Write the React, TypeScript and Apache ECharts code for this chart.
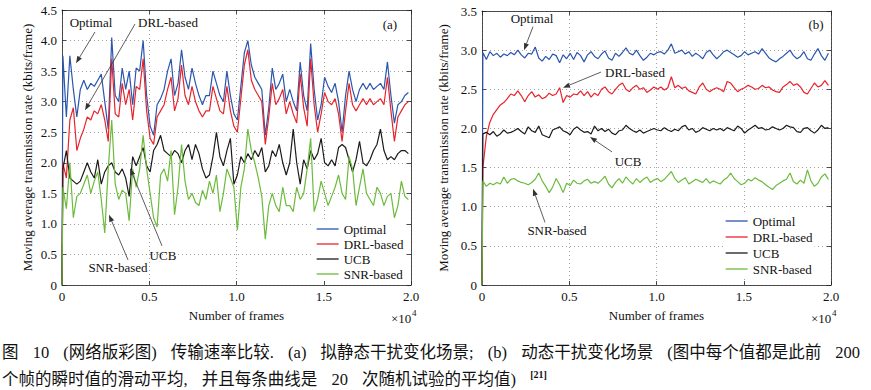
import React, { useEffect, useRef } from 'react';
import * as echarts from 'echarts';

// Sampling of the moving-average curves: first sample at frame 50, one every 200 frames
const FRAME_START = 50;
const FRAME_STEP = 200;

const seriesNames = ['Optimal', 'DRL-based', 'UCB', 'SNR-based'];
const seriesColors = ['#2a56ad', '#e8232b', '#1e1a1a', '#6cbb3c'];

const xTickLabels = ['0', '0.5', '1.0', '1.5', '2.0'];
const yTickLabelsA = ['0', '0.5', '1.0', '1.5', '2.0', '2.5', '3.0', '3.5', '4.0', '4.5'];
const yTickLabelsB = ['0', '0.5', '1.0', '1.5', '2.0', '2.5', '3.0', '3.5'];

// (a) quasi-static interference
const optimalA = [
  3.75, 2.75, 3.75, 3.2, 2.75, 3.2, 3.35, 3.2, 3.3, 3.25,
  3.35, 3.45, 3.0, 2.55, 4.05, 3.1, 3.0, 3.55, 3.2, 3.5,
  2.95, 3.55, 3.5, 4.0, 3.1, 2.6, 2.45, 2.95, 3.05, 3.2,
  3.5, 3.7, 3.1, 3.3, 3.85, 3.4, 3.2, 3.55, 3.3, 3.1,
  2.95, 3.1, 3.1, 3.5, 3.3, 3.1, 3.0, 3.5, 3.1, 2.8,
  2.7, 3.25, 3.8, 4.0, 3.6, 3.4, 3.3, 3.2, 2.45, 2.9,
  3.55, 3.2, 3.3, 3.45, 3.0, 3.2, 3.0, 2.85, 3.65, 3.1,
  2.85, 3.95, 3.2, 2.7, 2.95, 3.4, 3.25, 3.15, 3.3, 3.0,
  2.5, 3.1, 3.5, 3.2, 3.0, 3.2, 3.3, 3.2, 3.3, 3.2,
  3.25, 3.3, 3.2, 3.65, 3.1, 2.65, 2.95, 3.0, 3.1, 3.15,
];
const drlA = [
  2.0, 1.75, 2.7, 2.9, 2.2, 2.4, 2.55, 2.75, 2.7, 2.85,
  2.8, 2.95, 2.7, 2.35, 3.7, 2.8, 2.75, 3.3, 2.95, 3.2,
  2.7, 3.25, 3.2, 3.7, 2.85, 2.4, 2.3, 2.75, 2.85, 2.95,
  3.2, 3.4, 2.85, 3.05, 3.6, 3.1, 2.95, 3.25, 3.0, 2.85,
  2.75, 2.85, 2.85, 3.25, 3.05, 2.85, 2.8, 3.25, 2.85, 2.6,
  2.5, 3.05, 3.6, 3.85, 3.35, 3.2, 3.1, 3.0, 2.3, 2.75,
  3.3, 2.95, 3.05, 3.2, 2.8, 3.0, 2.8, 2.65, 3.45, 2.9,
  2.6, 3.7, 2.95, 2.5, 2.8, 3.15, 3.0, 2.95, 3.05, 2.8,
  2.35, 2.85, 3.3, 2.95, 2.85, 2.95, 3.05, 2.95, 3.05, 2.95,
  3.0, 3.05, 2.95, 3.4, 2.85, 2.35, 2.75, 2.85, 2.95, 3.0,
];
const ucbA = [
  1.9, 2.2, 1.75, 1.7, 1.65, 1.7, 1.85, 2.0, 1.85, 1.75,
  2.05, 1.65, 1.85, 1.95, 2.0, 1.85, 1.8, 1.9, 1.75, 1.45,
  2.1, 1.95, 2.1, 2.25, 1.95, 1.85, 2.2, 2.3, 2.45, 2.2,
  2.15, 2.1, 2.2, 2.15, 2.0, 2.2, 2.3, 2.05, 2.3, 2.15,
  1.9, 1.75, 1.8, 2.1, 2.5, 2.1, 1.95, 2.2, 2.4, 1.65,
  1.8, 2.1, 2.0, 2.15, 2.05, 2.2, 2.1, 2.25, 1.85, 1.95,
  2.2, 2.1, 2.3, 2.0, 1.8, 2.0, 2.55, 2.0, 1.65, 2.05,
  1.9, 2.2, 2.05, 2.15, 2.4, 2.0, 1.95, 2.05, 1.95, 2.25,
  2.3, 2.25, 2.05, 1.85, 2.05, 2.35, 2.0, 1.95, 2.05, 2.2,
  2.3, 2.55, 2.2, 2.05, 2.1, 2.05, 2.15, 2.2, 2.2, 2.15,
];
const snrA = [
  1.6, 1.25, 2.0, 1.1, 1.45, 1.5, 1.65, 1.8, 1.5, 1.7,
  1.85, 1.4, 0.85, 1.9, 2.7, 1.65, 1.4, 1.55, 1.5, 1.05,
  1.9, 1.6, 1.9, 2.45, 1.9, 1.5, 1.1, 0.95, 1.8, 1.9,
  1.7, 2.2, 1.15, 1.6, 2.3, 1.7, 1.4, 1.5, 1.35, 1.3,
  1.55, 1.4, 1.7, 1.5, 1.8, 1.2, 1.5, 1.9, 1.75, 1.6,
  0.9, 1.6, 1.9, 2.55, 2.2, 2.0, 1.75, 1.45, 0.75, 1.3,
  1.5, 1.3, 1.2, 1.6, 1.3, 1.3, 1.2, 1.6, 1.4, 1.5,
  1.9, 2.4, 1.2, 1.4, 1.7, 1.5, 1.3, 1.45, 1.6, 1.8,
  1.5, 1.4, 2.1, 1.9, 1.3, 1.6, 1.9, 1.5, 1.4, 1.3,
  1.6, 1.5, 1.3, 1.45, 1.5, 1.1, 1.3, 1.7, 1.45, 1.4,
];

// (b) dynamic interference
const optimalB = [
  2.97, 2.88, 2.98, 2.93, 2.96, 2.91, 2.95, 2.93, 2.97, 2.94,
  3.0, 2.94, 2.9, 2.96, 2.95, 3.04, 2.9, 2.86, 2.92, 2.88,
  2.95, 2.93, 2.84, 2.94, 2.89, 2.96, 2.88, 2.97, 2.93, 2.85,
  2.94, 2.98, 2.92, 2.89, 2.95, 2.99, 2.9, 2.87, 2.96, 2.92,
  2.97, 3.03, 2.96, 2.94, 3.0, 2.93, 2.87, 2.91, 2.96, 2.94,
  2.97, 2.98, 2.95, 3.0, 3.08, 2.96, 2.98, 3.0, 2.95, 2.98,
  2.92, 2.96, 2.93, 2.89, 2.97, 3.0, 2.94, 2.89, 2.93, 2.98,
  3.0, 2.97, 2.94, 2.91, 2.93, 2.98, 2.94, 2.96, 2.98, 2.95,
  3.02, 2.96, 2.9, 2.87, 2.85, 2.89, 2.92, 2.96, 3.0, 2.93,
  2.89, 2.92, 2.98, 2.89, 2.87, 2.95, 3.02, 2.93, 2.87, 2.96,
];
const drlB = [
  1.5, 1.9, 2.08, 2.18, 2.24, 2.3, 2.33, 2.38, 2.44, 2.42,
  2.48, 2.42, 2.34, 2.42, 2.47, 2.4, 2.43, 2.38, 2.4, 2.45,
  2.42, 2.44, 2.52, 2.33, 2.42, 2.4, 2.44, 2.43, 2.48, 2.42,
  2.47, 2.4, 2.45, 2.42, 2.5, 2.53, 2.47, 2.44, 2.5, 2.55,
  2.58, 2.5, 2.47, 2.52, 2.55, 2.5, 2.52, 2.46, 2.49, 2.53,
  2.5, 2.53, 2.49, 2.52, 2.66, 2.52, 2.55, 2.51, 2.53, 2.48,
  2.46, 2.44, 2.53, 2.58, 2.5, 2.47, 2.5, 2.52, 2.5, 2.47,
  2.6, 2.58, 2.52, 2.47, 2.5, 2.52, 2.55, 2.53, 2.5, 2.51,
  2.55, 2.52, 2.53, 2.49, 2.47, 2.46, 2.53, 2.56, 2.6, 2.55,
  2.57, 2.53, 2.46, 2.44, 2.51, 2.58, 2.53, 2.55, 2.61, 2.55,
];
const ucbB = [
  1.93, 1.95, 1.92, 1.96, 1.9, 1.93, 1.98, 1.94, 1.95, 1.97,
  2.0, 1.96, 1.93, 2.02, 1.97, 1.95, 2.03, 1.92, 1.9, 1.88,
  1.98, 2.0, 2.02, 1.97, 1.95, 1.92, 1.99, 2.02, 1.98, 1.95,
  1.96, 1.93, 2.03, 1.97, 2.0, 1.96, 1.99, 1.94, 1.92, 1.97,
  1.98, 2.04, 2.0, 1.97, 1.95, 1.98, 1.94, 1.96, 1.98, 2.0,
  1.98, 1.97, 2.01, 1.98, 1.96, 1.99, 1.97, 2.02, 2.04, 1.98,
  2.0, 1.95, 1.97, 2.01, 1.99, 1.97, 2.0, 1.98, 2.0, 1.97,
  2.01, 1.99, 1.97, 2.03, 2.0, 1.94, 1.98, 2.01, 2.04, 2.0,
  2.01, 1.98, 1.99, 2.02, 2.0, 1.98, 2.0, 2.04, 2.02, 2.01,
  1.96, 1.95, 2.0, 2.01, 1.97, 1.94, 1.98, 2.04, 2.0, 2.01,
];
const snrB = [
  1.33, 1.26, 1.3, 1.28, 1.31, 1.29, 1.38, 1.3, 1.35, 1.36,
  1.33, 1.31, 1.3, 1.28, 1.31, 1.35, 1.43, 1.33, 1.26, 1.18,
  1.25, 1.36, 1.28, 1.18, 1.3, 1.27, 1.34, 1.3, 1.29, 1.33,
  1.35, 1.3, 1.32, 1.3, 1.34, 1.39, 1.29, 1.24, 1.31, 1.36,
  1.3, 1.38, 1.33, 1.29, 1.36, 1.31, 1.35, 1.38, 1.31, 1.34,
  1.36, 1.32, 1.35, 1.4, 1.45, 1.36, 1.31, 1.34, 1.37, 1.29,
  1.32, 1.35, 1.33, 1.31, 1.36, 1.3, 1.33, 1.31, 1.29, 1.34,
  1.37, 1.43, 1.36, 1.32, 1.28, 1.3, 1.35, 1.33, 1.37, 1.34,
  1.32, 1.28, 1.25, 1.22, 1.27, 1.3, 1.33, 1.35, 1.43, 1.32,
  1.29, 1.34, 1.3, 1.47, 1.33, 1.26, 1.3, 1.38, 1.42, 1.35,
];

// Annotations in data coordinates: label centre, arrow tail, arrow head
const annotationsA = [
  { text: 'Optimal', at: [1662, 4.3], from: [1891, 4.14], to: [802, 3.63] },
  { text: 'DRL-based', at: [6074, 4.3], from: [4183, 4.27], to: [1318, 2.86] },
  { text: 'UCB', at: [5787, 0.49], from: [5730, 0.64], to: [3897, 1.91] },
  { text: 'SNR-based', at: [3209, 0.29], from: [3782, 0.41], to: [2693, 1.15] },
];
const annotationsB = [
  { text: 'Optimal', at: [2865, 3.4], from: [2923, 3.3], to: [2407, 3.0] },
  { text: 'DRL-based', at: [8768, 2.72], from: [6819, 2.72], to: [4642, 2.52] },
  { text: 'UCB', at: [8367, 1.58], from: [7450, 1.7], to: [6189, 1.89] },
  { text: 'SNR-based', at: [4298, 0.69], from: [3610, 0.8], to: [2923, 1.23] },
];
const panelTags = [
  { text: '(a)', at: [18796, 4.27] },
  { text: '(b)', at: [19140, 3.33] },
];

const SERIF = "'Liberation Serif', 'Times New Roman', serif";
const AXIS_COLOR = '#222';

const toPairs = (vals: number[]) => [
  [0, 0],
  ...vals.map((v, i) => [FRAME_START + i * FRAME_STEP, v]),
];

const yLabel = (labels: string[]) => (v: number) => labels[Math.round(v / 0.5)] ?? '';
const xLabel = (v: number) => xTickLabels[Math.round(v / 5000)] ?? '';

function buildAxes(gridIndex: number, yMax: number, yLabels: string[], nameGap: number) {
  const common = {
    gridIndex,
    axisLine: { show: true, onZero: false, lineStyle: { color: AXIS_COLOR, width: 0.8 } },
    axisTick: { show: true, inside: true, length: 4, lineStyle: { color: AXIS_COLOR, width: 0.8 } },
  };
  const xs = [
    {
      ...common,
      type: 'value', position: 'bottom', min: 0, max: 20000, interval: 5000,
      name: 'Number of frames', nameLocation: 'middle', nameGap: 24,
      nameTextStyle: { fontFamily: SERIF, fontSize: 13, color: '#111' },
      axisLabel: { formatter: xLabel, fontFamily: SERIF, fontSize: 13, color: '#111', margin: 5 },
      splitLine: { show: true, lineStyle: { color: '#8a8a8a', type: [1, 3], width: 0.8 } },
    },
    {
      ...common,
      type: 'value', position: 'top', min: 0, max: 20000, interval: 5000,
      axisLabel: { show: false }, splitLine: { show: false },
    },
  ];
  const ys = [
    {
      ...common,
      type: 'value', position: 'left', min: 0, max: yMax, interval: 0.5,
      name: 'Moving average transmission rate (kbits/frame)', nameLocation: 'middle', nameGap,
      nameTextStyle: { fontFamily: SERIF, fontSize: 13, color: '#111' },
      axisLabel: { formatter: yLabel(yLabels), fontFamily: SERIF, fontSize: 13, color: '#111', margin: 5 },
      splitLine: { show: true, lineStyle: { color: '#8a8a8a', type: [1, 3], width: 0.8 } },
    },
    {
      ...common,
      type: 'value', position: 'right', min: 0, max: yMax, interval: 0.5,
      axisLabel: { show: false }, splitLine: { show: false },
    },
  ];
  return { xs, ys };
}

export default function App() {
  const ref = useRef<HTMLDivElement>(null);

  useEffect(() => {
    if (!ref.current) return;
    const chart = echarts.init(ref.current, undefined, { renderer: 'svg' });

    const a = buildAxes(0, 4.5, yTickLabelsA, 28);
    const b = buildAxes(1, 3.5, yTickLabelsB, 32);

    const panelA = [optimalA, drlA, ucbA, snrA];
    const panelB = [optimalB, drlB, ucbB, snrB];

    const makeSeries = (vals: number[][], axisBase: number, width: number) =>
      vals.map((v, k) => ({
        type: 'line',
        name: seriesNames[k],
        xAxisIndex: axisBase,
        yAxisIndex: axisBase,
        data: toPairs(v),
        symbol: 'none',
        showSymbol: false,
        lineStyle: { color: seriesColors[k], width },
        itemStyle: { color: seriesColors[k] },
        emphasis: { disabled: true },
        z: 2 + k,
      }));

    const legendCommon = {
      orient: 'vertical',
      data: seriesNames,
      itemWidth: 22,
      itemHeight: 14,
      itemGap: 1,
      backgroundColor: '#fff',
      padding: [0, 2, 0, 2],
      selectedMode: false,
      itemStyle: { opacity: 0 },
      lineStyle: { width: 1.3 },
      textStyle: { fontFamily: SERIF, fontSize: 13, color: '#111', lineHeight: 14 },
    };

    chart.setOption({
      animation: false,
      backgroundColor: '#fff',
      grid: [
        { left: 62, top: 10, width: 349, height: 275 },
        { left: 482, top: 11, width: 349, height: 274 },
      ],
      xAxis: [...a.xs, ...b.xs.map((x) => ({ ...x, gridIndex: 1 }))],
      yAxis: [...a.ys, ...b.ys.map((y) => ({ ...y, gridIndex: 1 }))],
      legend: [
        { ...legendCommon, left: 314, top: 222 },
        { ...legendCommon, left: 723, top: 214, itemGap: 2 },
      ],
      series: [...makeSeries(panelA, 0, 1.2), ...makeSeries(panelB, 2, 1.2)],
    });

    const graphics: any[] = [];
    const addAnnotations = (list: typeof annotationsA, gridIndex: number) => {
      list.forEach((an) => {
        const p = chart.convertToPixel({ gridIndex }, an.at) as number[];
        const f = chart.convertToPixel({ gridIndex }, an.from) as number[];
        const t = chart.convertToPixel({ gridIndex }, an.to) as number[];
        graphics.push({
          type: 'text',
          style: {
            text: an.text, x: p[0], y: p[1], fill: '#111',
            font: `13px ${SERIF}`, align: 'center', verticalAlign: 'middle',
            textAlign: 'center', textVerticalAlign: 'middle',
          },
          z: 20,
        });
        const dx = t[0] - f[0];
        const dy = t[1] - f[1];
        const len = Math.hypot(dx, dy) || 1;
        const ux = dx / len;
        const uy = dy / len;
        const hl = 7;
        const hw = 2.6;
        const bx = t[0] - ux * hl;
        const by = t[1] - uy * hl;
        graphics.push({
          type: 'line',
          shape: { x1: f[0], y1: f[1], x2: bx, y2: by },
          style: { stroke: '#333', lineWidth: 0.8 },
          z: 20,
        });
        graphics.push({
          type: 'polygon',
          shape: {
            points: [
              [t[0], t[1]],
              [bx - uy * hw, by + ux * hw],
              [bx + uy * hw, by - ux * hw],
            ],
          },
          style: { fill: '#333' },
          z: 20,
        });
      });
    };
    addAnnotations(annotationsA, 0);
    addAnnotations(annotationsB, 1);

    panelTags.forEach((tag, gi) => {
      const p = chart.convertToPixel({ gridIndex: gi }, tag.at) as number[];
      graphics.push({
        type: 'text',
        style: {
          text: tag.text, x: p[0], y: p[1], fill: '#111', font: `13px ${SERIF}`,
          align: 'center', verticalAlign: 'middle', textAlign: 'center', textVerticalAlign: 'middle',
        },
        z: 20,
      });
    });

    // ×10^4 exponent markers at the right end of each x axis
    [0, 1].forEach((gi) => {
      const p = chart.convertToPixel({ gridIndex: gi }, [20000, 0]) as number[];
      graphics.push({
        type: 'text',
        style: {
          text: '×10', x: p[0] - 20, y: p[1] + 33, fill: '#111', font: `13px ${SERIF}`,
          align: 'left', verticalAlign: 'middle', textAlign: 'left', textVerticalAlign: 'middle',
        },
        z: 20,
      });
      graphics.push({
        type: 'text',
        style: {
          text: '4', x: p[0] + 1, y: p[1] + 28, fill: '#111', font: `9px ${SERIF}`,
          align: 'left', verticalAlign: 'middle', textAlign: 'left', textVerticalAlign: 'middle',
        },
        z: 20,
      });
    });

    chart.setOption({ graphic: graphics });

    return () => chart.dispose();
  }, []);

  const captionFont = "'Liberation Serif', 'Noto Sans CJK SC', serif";
  const captionStyle: React.CSSProperties = {
    position: 'absolute', left: 2, fontFamily: captionFont, fontSize: 16.5,
    lineHeight: '22px', color: '#111', whiteSpace: 'nowrap', wordSpacing: 10,
  };

  return (
    <div style={{ position: 'absolute', left: 0, top: 0, width: 871, height: 390, background: '#fff', overflow: 'hidden' }}>
      <div ref={ref} style={{ position: 'absolute', left: 0, top: 0, width: 871, height: 335 }} />
      <div style={{ ...captionStyle, top: 342 }}>
        图 10 (网络版彩图) 传输速率比较. (a) 拟静态干扰变化场景; (b) 动态干扰变化场景 (图中每个值都是此前 200
      </div>
      <div style={{ ...captionStyle, top: 364 }}>
        个帧的瞬时值的滑动平均, 并且每条曲线是 20 次随机试验的平均值) <sup style={{ fontSize: 10, fontWeight: 'bold' }}>[21]</sup>
      </div>
    </div>
  );
}
